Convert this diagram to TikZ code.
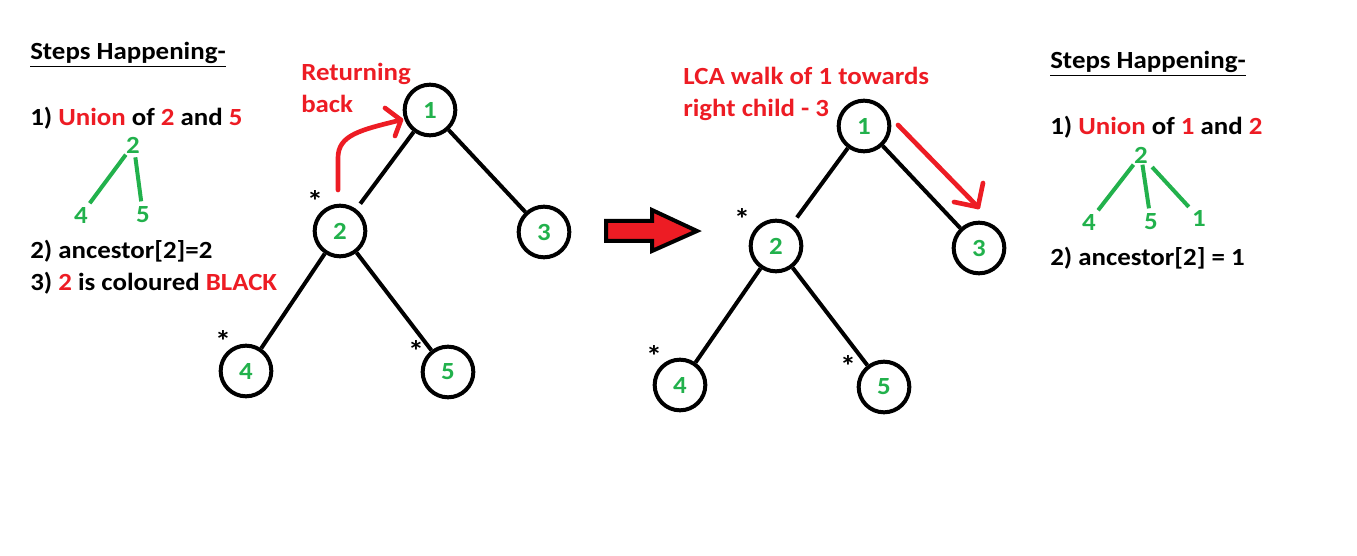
\documentclass[tikz,border=0pt]{standalone}
\usepackage{fontspec}
\setmainfont{Carlito}[FakeStretch=1.09]
\definecolor{pred}{RGB}{237,28,36}
\definecolor{pgreen}{RGB}{34,177,76}
\begin{document}
\begin{tikzpicture}[x=0.75pt,y=-0.75pt,
  txt/.style={font=\bfseries\fontsize{18.5pt}{22pt}\selectfont, inner sep=0, anchor=base west},
  tnode/.style={circle, draw, line width=3pt, minimum size=38pt, inner sep=0, text=pgreen,
    font=\bfseries\fontsize{18.5pt}{22pt}\selectfont},
  mini/.style={text=pgreen, inner sep=1pt, font=\bfseries\fontsize{18.5pt}{22pt}\selectfont},
  star/.style={inner sep=0, anchor=base, font=\bfseries\fontsize{22pt}{24pt}\selectfont},
  edge/.style={line width=3pt},
  gline/.style={draw=pgreen, line width=3pt},
  rarrow/.style={draw=pred, line width=3.5pt, line cap=round, line join=round},
]
\useasboundingbox (0,0) rectangle (1357,556);

% ---------------- left panel ----------------
\node[txt] (lh) at (30,60) {\underline{Steps Happening-}};
\node[txt] (l1) at (30,126) {1) \textcolor{pred}{Union} of \textcolor{pred}{2} and \textcolor{pred}{5}};
\node[mini] (lm2) at (133,145) {2};
\node[mini] (lm4) at (81,215) {4};
\node[mini] (lm5) at (143,215) {5};
\draw[gline, shorten >=2pt] (lm2) -- (lm4);
\draw[gline, shorten <=2pt, shorten >=3pt] (lm2.south) ++(2,0) coordinate (lm2b) (lm2b) -- (lm5);
\node[txt] (l2) at (30,258) {2) ancestor[2]=2};
\node[txt] (l3) at (30,290) {3) \textcolor{pred}{2} is coloured \textcolor{pred}{BLACK}};

% ---------------- tree 1 ----------------
\node[tnode] (a1) at (430,110) {1};
\node[tnode] (a2) at (340,231) {2};
\node[tnode] (a3) at (544,232) {3};
\node[tnode] (a4) at (246,371) {4};
\node[tnode] (a5) at (448,372) {5};
\draw[edge, shorten >=5pt] (a1) -- (a2);
\draw[edge] (a1) -- (a3);
\draw[edge] (a2) -- (a4);
\draw[edge] (a2) -- (a5);
\node[star] (s2) at (315,212) {*};
\node[star] (s4) at (223,351) {*};
\node[star] (s5) at (416,361) {*};
\node[txt, text=pred] (ret1) at (301,81) {Returning};
\node[txt, text=pred] (ret2) at (301,113) {back};
\coordinate (ra) at (338,190);
\coordinate (rb) at (401,120);
\draw[rarrow] (ra) -- (338,158) .. controls (338,135) and (360,130) .. (rb);
\draw[rarrow] (385,108) -- (rb) -- (395,136);

% ---------------- big arrow ----------------
\draw[fill=pred, line width=3pt, line join=miter]
  (606,221) -- (652,221) -- (652,210) -- (697,231) -- (652,251) -- (652,241) -- (606,241) -- cycle;

% ---------------- tree 2 ----------------
\node[tnode] (b1) at (864,126) {1};
\node[tnode] (b2) at (776,246) {2};
\node[tnode] (b3) at (979,248) {3};
\node[tnode] (b4) at (680,385) {4};
\node[tnode] (b5) at (884,387) {5};
\draw[edge, shorten >=6pt] (b1) -- (b2);
\draw[edge] (b1) -- (b3);
\draw[edge] (b2) -- (b4);
\draw[edge] (b2) -- (b5);
\node[star] (t2) at (742,229) {*};
\node[star] (t4) at (654,366) {*};
\node[star] (t5) at (848,376) {*};
\node[txt, text=pred] (lca1) at (683,85) {LCA walk of 1 towards};
\node[txt, text=pred] (lca2) at (683,117) {right child - 3};
\coordinate (wa) at (898,125);
\coordinate (wb) at (978,207);
\draw[rarrow] (wa) -- (wb);
\draw[rarrow] (983,183) -- (wb) -- (954,202);

% ---------------- right panel ----------------
\node[txt] (rh) at (1050,69) {\underline{Steps Happening-}};
\node[txt] (r1) at (1050,135) {1) \textcolor{pred}{Union} of \textcolor{pred}{1} and \textcolor{pred}{2}};
\node[mini] (rm2) at (1141,155) {2};
\node[mini] (rm4) at (1089,222) {4};
\node[mini] (rm5) at (1151,222) {5};
\node[mini] (rm1) at (1199,218) {1};
\draw[gline, shorten >=2pt] (rm2) -- (rm4);
\draw[gline, shorten >=3pt] (rm2) -- (rm5);
\draw[gline, shorten <=3pt, shorten >=2pt] (rm2) -- (rm1);
\node[txt] (r2) at (1050,266) {2) ancestor[2] = 1};
\end{tikzpicture}
\end{document}
